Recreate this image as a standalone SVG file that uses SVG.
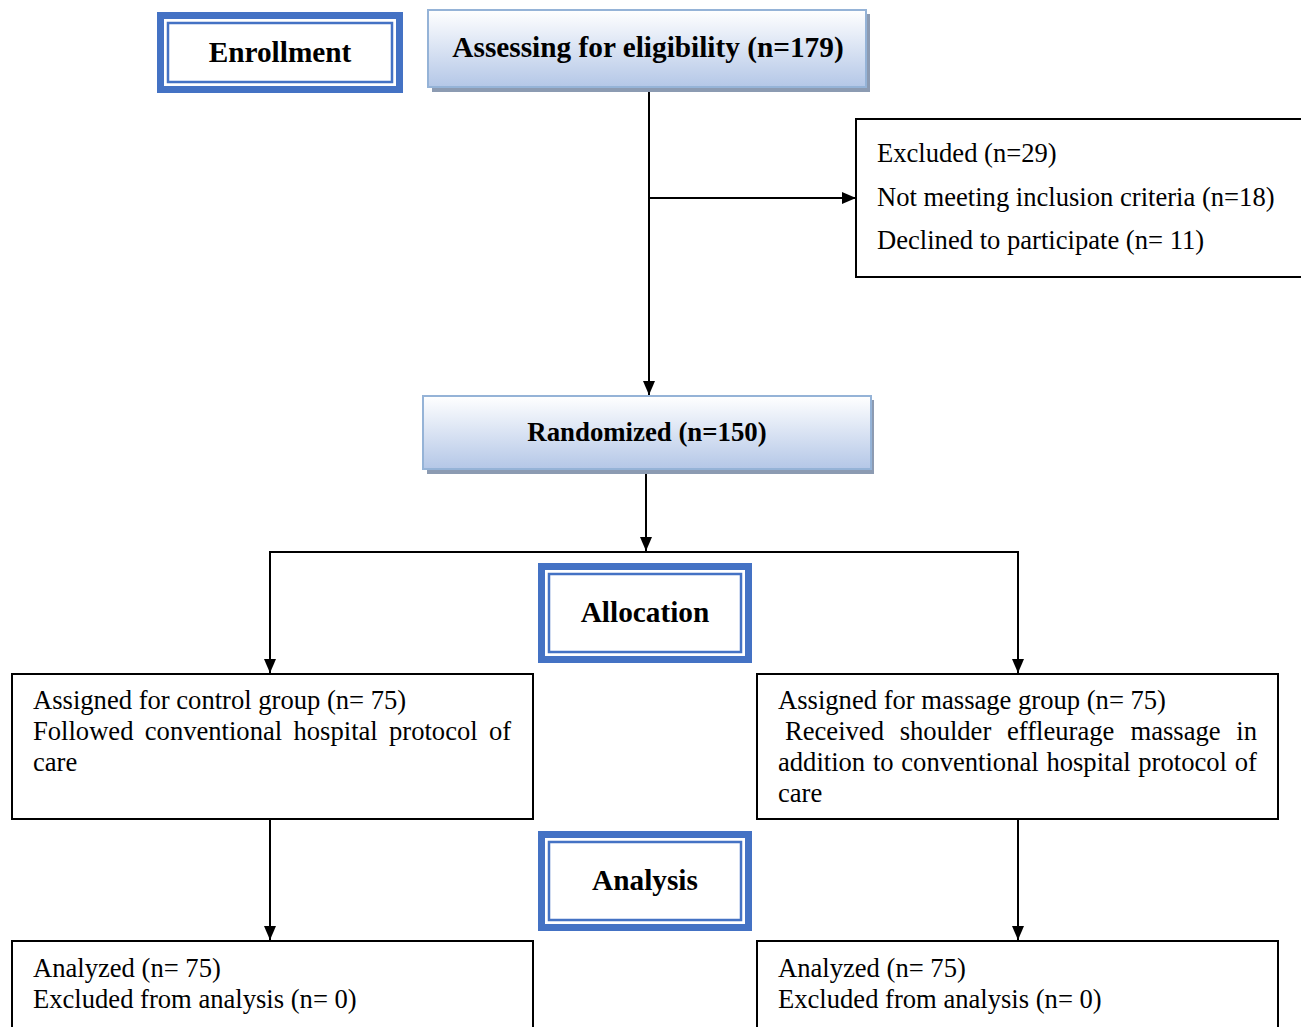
<svg xmlns="http://www.w3.org/2000/svg" width="1301" height="1027" viewBox="0 0 1301 1027">
<style>
.hd{font-family:"Liberation Serif","Times New Roman",serif;font-weight:bold;font-size:29.3px;fill:#000;text-anchor:middle}
.tx{font-family:"Liberation Serif","Times New Roman",serif;font-size:26.6px;fill:#000}
.ol{fill:#fff;stroke:#4472c4;stroke-width:7}
.il{fill:none;stroke:#4472c4;stroke-width:2.5}
.gb{fill:url(#g);stroke:#95b3d7;stroke-width:2}
.sh{fill:#8c9bb2}
.bx{fill:#fff;stroke:#000;stroke-width:2}
.ln{fill:none;stroke:#000;stroke-width:2}
</style>
<defs>
<linearGradient id="g" x1="0" y1="0" x2="0" y2="1">
<stop offset="0" stop-color="#ffffff"/>
<stop offset="1" stop-color="#b4c7e7"/>
</linearGradient>
<marker id="ar" viewBox="0 0 14 12" refX="14" refY="6" markerWidth="14" markerHeight="12" markerUnits="userSpaceOnUse" orient="auto">
<path d="M0,0 L14,6 L0,12 Z" fill="#000"/>
</marker>
</defs>
<rect width="1301" height="1027" fill="#fff"/>
<g id="connectors">
<line class="ln" x1="649" y1="88" x2="649" y2="395" marker-end="url(#ar)"/>
<line class="ln" x1="649" y1="198" x2="856" y2="198" marker-end="url(#ar)"/>
<line class="ln" x1="646" y1="470" x2="646" y2="551" marker-end="url(#ar)"/>
<polyline class="ln" points="270,672 270,552 1018,552 1018,672"/>
<line class="ln" x1="270" y1="600" x2="270" y2="673" marker-end="url(#ar)"/>
<line class="ln" x1="1018" y1="600" x2="1018" y2="673" marker-end="url(#ar)"/>
<line class="ln" x1="270" y1="819" x2="270" y2="940" marker-end="url(#ar)"/>
<line class="ln" x1="1018" y1="819" x2="1018" y2="940" marker-end="url(#ar)"/>
</g>
<g id="enrollment">
<rect class="ol" x="160.5" y="15.5" width="239" height="74"/>
<rect class="il" x="168" y="23" width="224" height="59"/>
<text class="hd" x="280" y="62">Enrollment</text>
</g>
<g id="assessing">
<rect class="sh" x="432" y="14" width="438" height="78"/>
<rect class="gb" x="428" y="10" width="438" height="77"/>
<text class="hd" x="648" y="57">Assessing for eligibility (n=179)</text>
</g>
<g id="excluded">
<rect class="bx" x="856" y="119" width="460" height="158"/>
<text class="tx" x="877" y="162">Excluded (n=29)</text>
<text class="tx" x="877" y="206">Not meeting inclusion criteria (n=18)</text>
<text class="tx" x="877" y="249">Declined to participate (n= 11)</text>
</g>
<g id="randomized">
<rect class="sh" x="427" y="400" width="447" height="74"/>
<rect class="gb" x="423" y="396" width="448" height="73"/>
<text class="hd" x="647" y="441" style="font-size:26.8px">Randomized (n=150)</text>
</g>
<g id="allocation">
<rect class="ol" x="541.5" y="566.5" width="207" height="93"/>
<rect class="il" x="549" y="574" width="192" height="78"/>
<text class="hd" x="645" y="622">Allocation</text>
</g>
<g id="control">
<rect class="bx" x="12" y="674" width="521" height="145"/>
<text class="tx" x="33" y="709">Assigned for control group (n= 75)</text>
<text class="tx" y="740"><tspan x="33">Followed</tspan><tspan x="144.8">conventional</tspan><tspan x="293.5">hospital</tspan><tspan x="389">protocol</tspan><tspan x="489">of</tspan></text>
<text class="tx" x="33" y="771">care</text>
</g>
<g id="massage">
<rect class="bx" x="757" y="674" width="521" height="145"/>
<text class="tx" x="778" y="709">Assigned for massage group (n= 75)</text>
<text class="tx" y="740"><tspan x="785">Received</tspan><tspan x="899.7">shoulder</tspan><tspan x="1007">effleurage</tspan><tspan x="1130.5">massage</tspan><tspan x="1236.3">in</tspan></text>
<text class="tx" y="771"><tspan x="778">addition</tspan><tspan x="872.9">to</tspan><tspan x="901.3">conventional</tspan><tspan x="1046.4">hospital</tspan><tspan x="1138.3">protocol</tspan><tspan x="1234.7">of</tspan></text>
<text class="tx" x="778" y="802">care</text>
</g>
<g id="analysis">
<rect class="ol" x="541.5" y="834.5" width="207" height="93"/>
<rect class="il" x="549" y="842" width="192" height="78"/>
<text class="hd" x="645" y="890">Analysis</text>
</g>
<g id="analyzed-control">
<rect class="bx" x="12" y="941" width="521" height="100"/>
<text class="tx" x="33" y="977">Analyzed (n= 75)</text>
<text class="tx" x="33" y="1008">Excluded from analysis (n= 0)</text>
</g>
<g id="analyzed-massage">
<rect class="bx" x="757" y="941" width="521" height="100"/>
<text class="tx" x="778" y="977">Analyzed (n= 75)</text>
<text class="tx" x="778" y="1008">Excluded from analysis (n= 0)</text>
</g>
</svg>
